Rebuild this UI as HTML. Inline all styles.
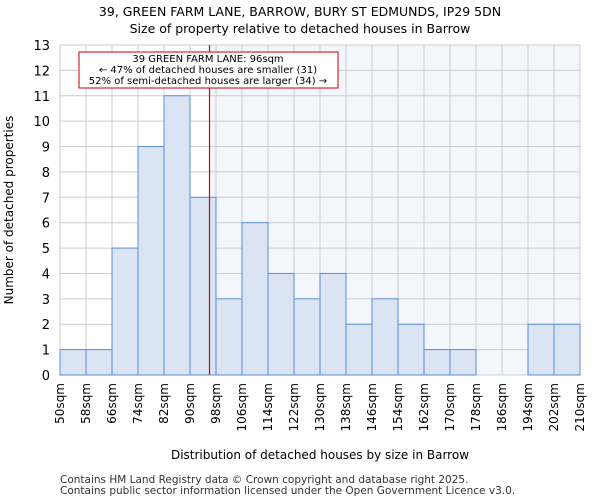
<!DOCTYPE html>
<html><head><meta charset="utf-8"><style>
body{margin:0;background:#fff;font-family:"DejaVu Sans","Liberation Sans",sans-serif;}
</style></head><body>
<svg id="chart" width="600" height="500" xmlns="http://www.w3.org/2000/svg" font-family="DejaVu Sans, Liberation Sans, sans-serif">
<text x="300" y="16" text-anchor="middle" font-size="12.5">39, GREEN FARM LANE, BARROW, BURY ST EDMUNDS, IP29 5DN</text>
<text x="300" y="33" text-anchor="middle" font-size="12.5">Size of property relative to detached houses in Barrow</text>
<g id="plot"></g>
<text x="320" y="459" text-anchor="middle" font-size="12">Distribution of detached houses by size in Barrow</text>
<text transform="translate(13,210) rotate(-90)" text-anchor="middle" font-size="12">Number of detached properties</text>
<text x="60" y="483" font-size="10.5" fill="#333">Contains HM Land Registry data © Crown copyright and database right 2025.</text>
<text x="60" y="494" font-size="10.5" fill="#333">Contains public sector information licensed under the Open Government Licence v3.0.</text>
</svg>
<script>
const binStarts=[50,58,66,74,82,90,98,106,114,122,130,138,146,154,162,170,178,186,194,202];
const counts=[1,1,5,9,11,7,3,6,4,3,4,2,3,2,1,1,0,0,2,2];
const tickLabels=["50sqm","58sqm","66sqm","74sqm","82sqm","90sqm","98sqm","106sqm","114sqm","122sqm","130sqm","138sqm","146sqm","154sqm","162sqm","170sqm","178sqm","186sqm","194sqm","202sqm","210sqm"];
const subjectSize=96;
const yMax=13;
const L=60,R=580,T=45,B=375,binW=8,xMin=50,xMax=210;
const xs=v=>L+(v-xMin)/(xMax-xMin)*(R-L);
const ys=v=>B-v/yMax*(B-T);
const NS="http://www.w3.org/2000/svg";
const g=document.getElementById('plot');
function mk(t,a){const e=document.createElementNS(NS,t);for(const k in a)e.setAttribute(k,a[k]);g.appendChild(e);return e;}
let e=mk('rect',{x:xs(subjectSize),y:T,width:R-xs(subjectSize),height:B-T,fill:'#f4f6fd'});


for(let i=0;i<=yMax;i++){
 e=mk('line',{x1:L,x2:R,y1:ys(i),y2:ys(i),stroke:'#ccc','stroke-width':1});
 
 
 e=mk('text',{x:L-10,y:ys(i)+5,'text-anchor':'end','font-size':13});
 e.textContent=i;
 
 
}
for(let i=0;i<tickLabels.length;i++){
 const v=xMin+i*binW;
 e=mk('line',{x1:xs(v),x2:xs(v),y1:T,y2:B,stroke:'#ccc','stroke-width':1});
 
 
 e=mk('text',{transform:`translate(${xs(v)+4},${B+8}) rotate(-90)`,'text-anchor':'end','font-size':12});
 e.textContent=tickLabels[i];
 
 
}
binStarts.forEach((s,i)=>{
 if(counts[i]<=0)return;
 const b=mk('rect',{x:xs(s),y:ys(counts[i]),width:xs(s+binW)-xs(s),height:B-ys(counts[i]),fill:'#dae4f3',stroke:'#5a8fd8','stroke-width':1});
 
 
});
e=mk('line',{x1:xs(subjectSize),x2:xs(subjectSize),y1:T,y2:B,stroke:'#dd0000','stroke-width':1.2});


e=mk('rect',{x:79,y:52,width:259,height:36,fill:'#fff',stroke:'#cc0000','stroke-width':1});


const lines=["39 GREEN FARM LANE: 96sqm","← 47% of detached houses are smaller (31)","52% of semi-detached houses are larger (34) →"];
lines.forEach((t,i)=>{
 const tx=mk('text',{x:208,y:62+i*11,'text-anchor':'middle','font-size':10});
 tx.textContent=t;
 
 
});
</script>
</body></html>
